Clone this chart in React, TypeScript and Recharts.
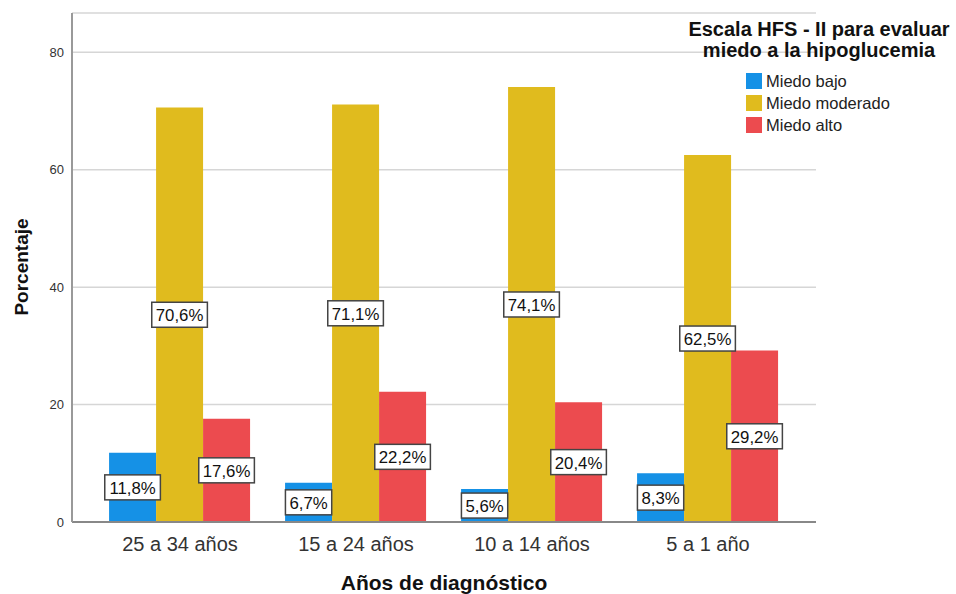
import React from "react";
import { BarChart, Bar, XAxis, YAxis, CartesianGrid, LabelList } from "recharts";

const categories = ["25 a 34 años", "15 a 24 años", "10 a 14 años", "5 a 1 año"];
const miedoBajo = [11.8, 6.7, 5.6, 8.3];
const miedoModerado = [70.6, 71.1, 74.1, 62.5];
const miedoAlto = [17.6, 22.2, 20.4, 29.2];
const yTicks = [0, 20, 40, 60, 80];

const seriesNames = ["Miedo bajo", "Miedo moderado", "Miedo alto"];
const seriesColors = ["#1591E6", "#E0BB1E", "#EC4B4F"];
const legendTitle = ["Escala HFS - II para evaluar", "miedo a la hipoglucemia"];

const data = categories.map((c, i) => ({
  cat: c,
  bajo: miedoBajo[i],
  moderado: miedoModerado[i],
  alto: miedoAlto[i],
}));

const FONT = '"Liberation Sans", Arial, sans-serif';

const fmt = (v: number) => v.toFixed(1).replace(".", ",") + "%";

const charW = (s: string) => {
  let w = 0;
  for (const ch of s) {
    if (ch === ",") w += 0.278;
    else if (ch === "%") w += 0.889;
    else w += 0.556;
  }
  return w * 16.8;
};

const BoxLabel = (props: any) => {
  const { x, y, width, height, value } = props;
  const cx = Number(x) + Number(width) / 2;
  const cy = Number(y) + Number(height) / 2;
  const txt = fmt(Number(value));
  const w = charW(txt) + 8;
  const h = 25;
  return (
    <g>
      <rect x={cx - w / 2} y={cy - h / 2} width={w} height={h} fill="#ffffff" stroke="#444" strokeWidth={1.5} />
      <text x={cx} y={cy + 1} textAnchor="middle" dominantBaseline="central" fontSize={16.8} fontFamily={FONT} fill="#111">
        {txt}
      </text>
    </g>
  );
};

const LegendBox = () => (
  <div style={{ fontFamily: FONT, position: "absolute", left: 682, top: 19, width: 274, height: 140 }}>
    <div style={{ position: "absolute", left: 0, top: 0, width: 274, textAlign: "center", fontWeight: "bold", fontSize: 20, lineHeight: "21px", color: "#111", whiteSpace: "nowrap" }}>
      {legendTitle.map((t) => (
        <div key={t}>{t}</div>
      ))}
    </div>
    {seriesNames.map((n, i) => (
      <div key={n} style={{ position: "absolute", left: 64, top: 51 + i * 22, height: 22, display: "flex", alignItems: "center" }}>
        <div style={{ width: 16, height: 16, background: seriesColors[i], marginRight: 4 }} />
        <span style={{ fontSize: 16.5, color: "#222", lineHeight: "22px", whiteSpace: "nowrap" }}>{n}</span>
      </div>
    ))}
  </div>
);

export default function App() {
  return (
    <div style={{ position: "absolute", left: 0, top: 0, width: 956, height: 594, background: "#fff" }}>
      <BarChart
        width={956}
        height={594}
        data={data}
        margin={{ top: 13, right: 140, bottom: 0, left: 0 }}
        barCategoryGap="9.7%"
        barGap={0}
      >
        <CartesianGrid vertical={false} stroke="#d6d6d6" strokeWidth={1.5} />
        <XAxis
          dataKey="cat"
          height={72}
          padding={{ left: 20, right: 20 }}
          tickLine={false}
          tickSize={6}
          tickMargin={9}
          axisLine={{ stroke: "#888", strokeWidth: 2 }}
          tick={{ fontSize: 20, fill: "#333", fontFamily: FONT }}
        />
        <YAxis
          width={72}
          domain={[0, 86.7]}
          ticks={yTicks}
          tickLine={false}
          tickSize={6}
          tickMargin={2}
          axisLine={{ stroke: "#999", strokeWidth: 2 }}
          tick={{ fontSize: 13, fill: "#333", fontFamily: FONT }}
          allowDataOverflow
        />
        <Bar dataKey="bajo" name={seriesNames[0]} fill={seriesColors[0]} isAnimationActive={false}>
          <LabelList dataKey="bajo" content={BoxLabel} />
        </Bar>
        <Bar dataKey="moderado" name={seriesNames[1]} fill={seriesColors[1]} isAnimationActive={false}>
          <LabelList dataKey="moderado" content={BoxLabel} />
        </Bar>
        <Bar dataKey="alto" name={seriesNames[2]} fill={seriesColors[2]} isAnimationActive={false}>
          <LabelList dataKey="alto" content={BoxLabel} />
        </Bar>
        <text x={21} y={267} transform="rotate(-90 21 267)" textAnchor="middle" dominantBaseline="central" fontSize={19} fontWeight="bold" fontFamily={FONT} fill="#111">
          Porcentaje
        </text>
        <text x={444} y={590} textAnchor="middle" fontSize={21} fontWeight="bold" fontFamily={FONT} fill="#111">
          Años de diagnóstico
        </text>
      </BarChart>
      <LegendBox />
    </div>
  );
}
